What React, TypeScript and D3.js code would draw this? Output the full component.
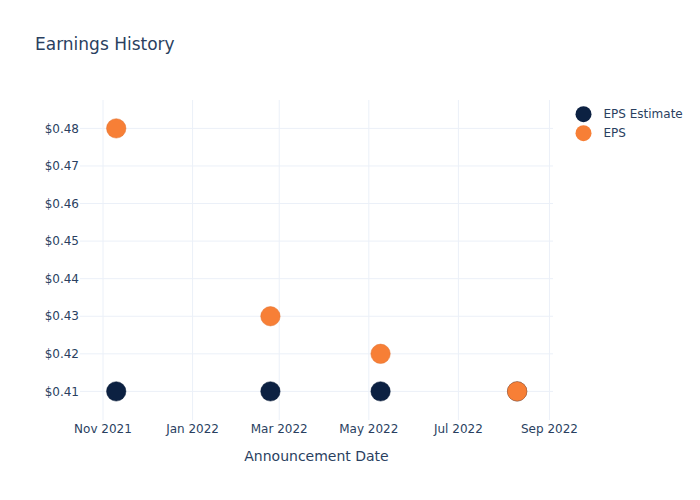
import React from "react";
import * as d3 from "d3";

const dates = ["2021-11-10", "2022-02-23", "2022-05-09", "2022-08-10"];
const epsEstimate = [0.41, 0.41, 0.41, 0.41];
const eps = [0.48, 0.43, 0.42, 0.41];
const yTicks = [0.41, 0.42, 0.43, 0.44, 0.45, 0.46, 0.47, 0.48];
const xTicks = ["2021-11-01", "2022-01-01", "2022-03-01", "2022-05-01", "2022-07-01", "2022-09-01"];
const seriesNames = ["EPS Estimate", "EPS"];
const seriesColors = ["#0C2142", "#F77F36"];

const W = 700, H = 500;
const L = 80, R = 553, T = 100, B = 420;
const FONT = "'DejaVu Sans', Verdana, sans-serif";
const TEXT = "#2a3f5f";

export default function App() {
  const parse = d3.utcParse("%Y-%m-%d");
  const x = d3.scaleUtc()
    .domain([new Date(Date.UTC(2021, 9, 16, 8)), new Date(Date.UTC(2022, 8, 3, 10))])
    .range([L, R]);
  const y = d3.scaleLinear().domain([0.40228, 0.48745]).range([B + 0.4, T + 0.4]);
  const fmtX = d3.utcFormat("%b %Y");
  const series = [epsEstimate, eps];
  return (
    <svg width={W} height={H} style={{ position: "absolute", left: 0, top: 0, fontFamily: FONT }}>
      <rect x={0} y={0} width={W} height={H} fill="#fff" />
      {xTicks.map((t) => {
        const px = x(parse(t)!);
        return <line key={t} x1={px} x2={px} y1={T} y2={B} stroke="#EBF0F8" strokeWidth={1} />;
      })}
      {yTicks.map((t) => (
        <line key={t} x1={L} x2={R} y1={y(t)} y2={y(t)} stroke="#EBF0F8" strokeWidth={1} />
      ))}
      {yTicks.map((t) => (
        <text key={t} x={L - 1} y={y(t)} dy="0.35em" textAnchor="end" fontSize={12} fill={TEXT}>
          {"$" + t.toFixed(2)}
        </text>
      ))}
      {xTicks.map((t) => (
        <text key={t} x={x(parse(t)!)} y={433} textAnchor="middle" fontSize={12} fill={TEXT}>
          {fmtX(parse(t)!)}
        </text>
      ))}
      {series.map((vals, si) =>
        vals.map((v, i) => (
          <circle key={si + "-" + i} cx={x(parse(dates[i])!)} cy={y(v)} r={9.7} fill={seriesColors[si]}
            stroke={si === 1 ? "#E0712E" : "#0A1C38"} strokeWidth={0.5} />
        ))
      )}
      <text x={35} y={50} fontSize={17} fill={TEXT}>Earnings History</text>
      <text x={(L + R) / 2} y={461} textAnchor="middle" fontSize={14} fill={TEXT}>Announcement Date</text>
      {seriesNames.map((n, i) => (
        <g key={n} transform={`translate(583.5,${114.2 + i * 19})`}>
          <circle cx={0} cy={0} r={8} fill={seriesColors[i]} />
          <text x={20} y={0} dy="0.35em" fontSize={12} fill={TEXT}>{n}</text>
        </g>
      ))}
    </svg>
  );
}
